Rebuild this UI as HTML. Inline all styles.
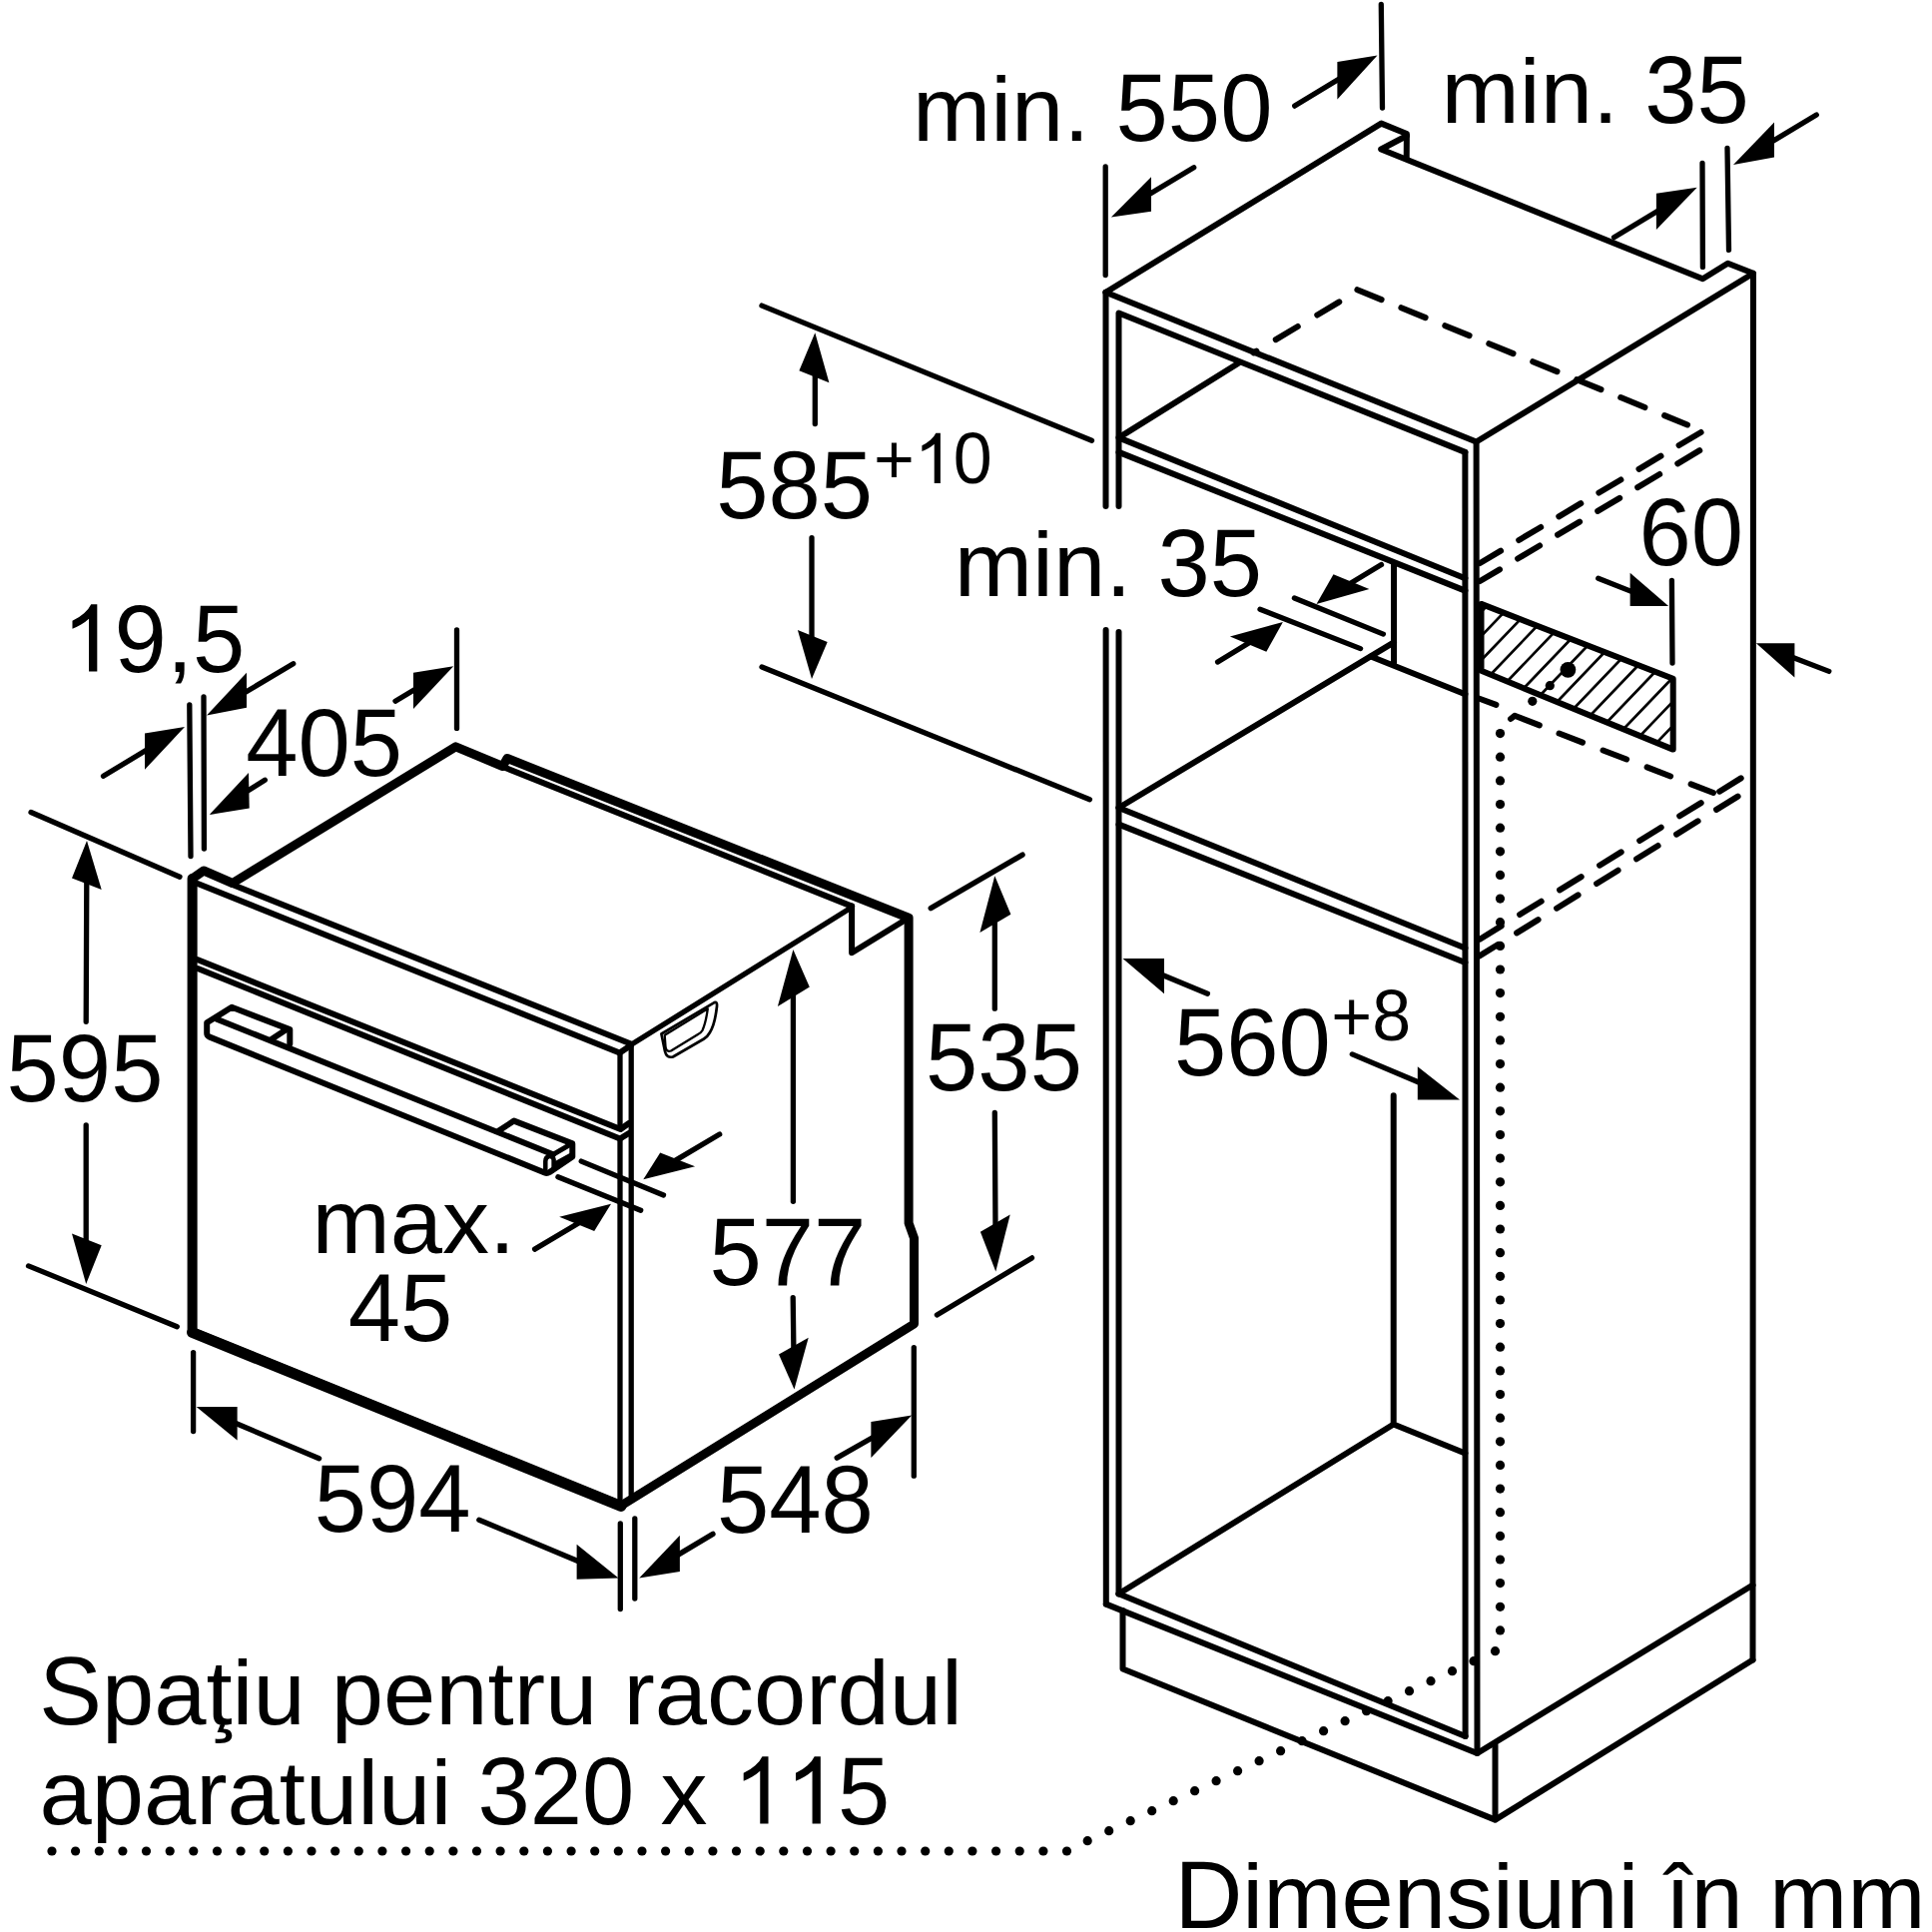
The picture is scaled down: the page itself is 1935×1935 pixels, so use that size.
<!DOCTYPE html>
<html><head><meta charset="utf-8"><style>
html,body{margin:0;padding:0;background:#fff;}
svg{display:block;}
text{font-family:"Liberation Sans",sans-serif;fill:#000;stroke:none;font-kerning:none;}
.f{fill:#000;stroke:none;}
</style></head><body>
<svg width="1935" height="1935" viewBox="0 0 1935 1935">
<rect width="1935" height="1935" fill="#fff"/>
<g stroke="#000" stroke-linecap="round" stroke-linejoin="round" fill="none">
<text transform="translate(913.9,141) scale(1,0.973)" font-size="94">min. </text>
<text transform="translate(1117.6,141) scale(1,1.02)" font-size="94">550</text>
<text transform="translate(1443.5,123.4) scale(1,0.973)" font-size="94">min. </text>
<text transform="translate(1647.2,123.4) scale(1,1.02)" font-size="94">35</text>
<text transform="translate(717.3,518.5) scale(1,1.02)" font-size="94">585</text>
<path transform="translate(915.8,483.9) scale(0.03418,-0.03418)" d="M763,0 L583,0 L583,1147 Q518,1085 412,1023 Q306,961 222,930 L222,1104 Q367,1172 476,1269 Q585,1366 630,1466 L763,1466 Z" class="f"/>
<text transform="translate(874.9,483.9) scale(1,1.0)" font-size="70">+</text>
<text transform="translate(954.7,483.9) scale(1,1.02)" font-size="70">0</text>
<text transform="translate(955.8,597.4) scale(1,0.973)" font-size="94">min. </text>
<text transform="translate(1159.5,597.4) scale(1,1.02)" font-size="94">35</text>
<text transform="translate(1641.5,566) scale(1,1.02)" font-size="94">60</text>
<path transform="translate(62.3,672.5) scale(0.04590,-0.04590)" d="M763,0 L583,0 L583,1147 Q518,1085 412,1023 Q306,961 222,930 L222,1104 Q367,1172 476,1269 Q585,1366 630,1466 L763,1466 Z" class="f"/>
<text transform="translate(114.6,672.5) scale(1,1.02)" font-size="94">9</text>
<text transform="translate(166.9,672.5) scale(1,0.973)" font-size="94">,</text>
<text transform="translate(193,672.5) scale(1,1.02)" font-size="94">5</text>
<text transform="translate(246.2,777) scale(1,1.02)" font-size="94">405</text>
<text transform="translate(6.6,1102.5) scale(1,1.02)" font-size="94">595</text>
<text transform="translate(927.1,1091.5) scale(1,1.02)" font-size="94">535</text>
<text transform="translate(1176,1077) scale(1,1.02)" font-size="94">560</text>
<text transform="translate(1333.3,1042) scale(1,1.0)" font-size="70">+</text>
<text transform="translate(1374.2,1042) scale(1,1.02)" font-size="70">8</text>
<text transform="translate(312.4,1254.5) scale(1,0.973)" font-size="94">max.</text>
<text transform="translate(348.7,1342.7) scale(1,1.02)" font-size="94">45</text>
<text transform="translate(710.4,1287) scale(1,1.02)" font-size="94">577</text>
<text transform="translate(314.7,1534) scale(1,1.02)" font-size="94">594</text>
<text transform="translate(717.9,1535) scale(1,1.02)" font-size="94">548</text>
<text transform="translate(39.2,1727.3) scale(1,1.02)" font-size="94">S</text>
<text transform="translate(101.9,1727.3) scale(1,0.973)" font-size="94">paţiu pentru racordul</text>
<path transform="translate(734.5,1826.5) scale(0.04590,-0.04590)" d="M763,0 L583,0 L583,1147 Q518,1085 412,1023 Q306,961 222,930 L222,1104 Q367,1172 476,1269 Q585,1366 630,1466 L763,1466 Z" class="f"/>
<path transform="translate(786.8,1826.5) scale(0.04590,-0.04590)" d="M763,0 L583,0 L583,1147 Q518,1085 412,1023 Q306,961 222,930 L222,1104 Q367,1172 476,1269 Q585,1366 630,1466 L763,1466 Z" class="f"/>
<text transform="translate(39.5,1826.5) scale(1,0.973)" font-size="94">aparatului </text>
<text transform="translate(478.5,1826.5) scale(1,1.02)" font-size="94">320 </text>
<text transform="translate(661.4,1826.5) scale(1,0.973)" font-size="94">x </text>
<text transform="translate(839.1,1826.5) scale(1,1.02)" font-size="94">5</text>
<text transform="translate(1176.4,1931) scale(1,1.02)" font-size="94">D</text>
<text transform="translate(1244.3,1931) scale(1,0.973)" font-size="94">imensiuni în mm</text>
<line x1="189.8" y1="706" x2="191" y2="857.5" stroke-width="5.3"/>
<line x1="204" y1="698" x2="204.4" y2="850" stroke-width="5.3"/>
<line x1="103.5" y1="777.3" x2="148.2" y2="750.3" stroke-width="5.3"/>
<polygon points="185,728 145,734.6 145,770.8" class="f"/>
<line x1="293.7" y1="664.7" x2="244.2" y2="694.3" stroke-width="5.3"/>
<polygon points="207,716.5 247,673.8 247,708.7" class="f"/>
<line x1="265.3" y1="781.2" x2="245.7" y2="793.5" stroke-width="5.3"/>
<polygon points="209.6,816 249,774 249.7,809.6" class="f"/>
<line x1="396" y1="702.2" x2="417.2" y2="689.5" stroke-width="5.3"/>
<polygon points="454.2,667.3 414,673.8 414,710" class="f"/>
<line x1="457.5" y1="631" x2="457.5" y2="729.4" stroke-width="5.3"/>
<line x1="31" y1="813.5" x2="180" y2="878.2" stroke-width="5.3"/>
<line x1="86.2" y1="1023.3" x2="86.8" y2="881.2" stroke-width="5.3"/>
<polygon points="87,842 72,879.5 101.7,891" class="f"/>
<line x1="86.2" y1="1126.8" x2="86.2" y2="1245.3" stroke-width="5.3"/>
<polygon points="86.2,1286 72,1235.5 101.7,1247.2" class="f"/>
<line x1="28.5" y1="1267.9" x2="177.3" y2="1328.7" stroke-width="5.3"/>
<line x1="193.6" y1="1354.6" x2="193.6" y2="1433.5" stroke-width="5.3"/>
<line x1="319.6" y1="1460.7" x2="233.8" y2="1424.5" stroke-width="5.3"/>
<polygon points="196.7,1408.9 237.6,1408.9 237.6,1442.5" class="f"/>
<line x1="479.8" y1="1522.2" x2="581.8" y2="1564.7" stroke-width="5.3"/>
<polygon points="619.5,1580.4 577.6,1546.8 577.6,1581.7" class="f"/>
<line x1="621.3" y1="1526" x2="621.3" y2="1611.5" stroke-width="5.3"/>
<line x1="635.8" y1="1521" x2="635.8" y2="1601" stroke-width="5.3"/>
<line x1="714" y1="1536.4" x2="677.6" y2="1558.1" stroke-width="5.3"/>
<polygon points="640.2,1580.4 680.9,1537.7 680.9,1574" class="f"/>
<line x1="838.2" y1="1460.1" x2="875.3" y2="1439" stroke-width="5.3"/>
<polygon points="913.2,1417.4 872.4,1423.9 872.4,1460.1" class="f"/>
<line x1="915.3" y1="1349.6" x2="915.3" y2="1478.2" stroke-width="5.3"/>
<line x1="794.4" y1="1203.3" x2="794.4" y2="994.2" stroke-width="5.3"/>
<polygon points="794.4,951 778.9,1007.9 810.8,988.5" class="f"/>
<line x1="794.2" y1="1299.6" x2="794.9" y2="1352.2" stroke-width="5.3"/>
<polygon points="795.5,1391.5 780,1356.6 809.7,1339.8" class="f"/>
<line x1="932.2" y1="909.6" x2="1024.1" y2="856.1" stroke-width="5.3"/>
<line x1="996.3" y1="1010.2" x2="996.3" y2="920.8" stroke-width="5.3"/>
<polygon points="996.3,877.3 981.4,933.9 1012.4,915.8" class="f"/>
<line x1="996.3" y1="1114.5" x2="997" y2="1229.1" stroke-width="5.3"/>
<polygon points="997.3,1273.5 981.9,1233.8 1011.7,1216.4" class="f"/>
<line x1="938.4" y1="1317" x2="1033.5" y2="1259.9" stroke-width="5.3"/>
<line x1="582.2" y1="1163.1" x2="664.5" y2="1197" stroke-width="5.3"/>
<line x1="558.9" y1="1178.7" x2="641.7" y2="1212.3" stroke-width="5.3"/>
<line x1="535.6" y1="1251.1" x2="581.2" y2="1224" stroke-width="5.3"/>
<polygon points="612,1205.8 560.2,1218.8 595.2,1233" class="f"/>
<line x1="720.7" y1="1136" x2="675" y2="1163.1" stroke-width="5.3"/>
<polygon points="644.3,1181.3 661.2,1154.5 696.1,1168.3" class="f"/>
<line x1="763" y1="306.1" x2="1093.5" y2="441.2" stroke-width="5.3"/>
<line x1="816.3" y1="424.6" x2="816.3" y2="373.3" stroke-width="5.3"/>
<polygon points="816.3,333.3 800.4,371.3 830.4,383.3" class="f"/>
<line x1="813" y1="538.7" x2="813" y2="641" stroke-width="5.3"/>
<polygon points="813,680 798.9,631.1 828.7,643" class="f"/>
<line x1="763" y1="668" x2="1091.4" y2="800.7" stroke-width="5.3"/>
<line x1="1107.2" y1="166.9" x2="1107.2" y2="275.6" stroke-width="5.3"/>
<line x1="1195.7" y1="167.7" x2="1149.1" y2="195.7" stroke-width="5.3"/>
<polygon points="1112.9,217.4 1153,177.3 1153,211.7" class="f"/>
<line x1="1296.7" y1="106.1" x2="1342.5" y2="78.2" stroke-width="5.3"/>
<polygon points="1379.5,55.6 1339.4,62.1 1339.4,99.6" class="f"/>
<line x1="1383.3" y1="4.5" x2="1384.5" y2="108" stroke-width="5.3"/>
<line x1="1705" y1="163.5" x2="1705.4" y2="267.4" stroke-width="5.3"/>
<line x1="1730" y1="148.4" x2="1731.5" y2="250.4" stroke-width="5.3"/>
<line x1="1819.3" y1="115" x2="1773.7" y2="142.4" stroke-width="5.3"/>
<polygon points="1736,165 1777,122.6 1777,157.5" class="f"/>
<line x1="1616.5" y1="237.7" x2="1662.5" y2="210.1" stroke-width="5.3"/>
<polygon points="1699.7,187.7 1658.9,193.8 1658.9,230" class="f"/>
<line x1="1296.4" y1="599" x2="1385.4" y2="635.1" stroke-width="5.3"/>
<line x1="1262" y1="610.2" x2="1362.6" y2="649.6" stroke-width="5.3"/>
<line x1="1383.5" y1="565.5" x2="1350.5" y2="585.5" stroke-width="5.3"/>
<polygon points="1318.5,604.9 1335.5,575.3 1371.4,590.1" class="f"/>
<line x1="1219.6" y1="663" x2="1253.2" y2="642.5" stroke-width="5.3"/>
<polygon points="1284.9,623.1 1231.9,637.4 1268.3,652.8" class="f"/>
<line x1="1600.7" y1="579.2" x2="1635.8" y2="593.1" stroke-width="5.3"/>
<polygon points="1671.1,607 1632.6,573.8 1632.6,607" class="f"/>
<line x1="1674.4" y1="581.3" x2="1675" y2="664" stroke-width="5.3"/>
<line x1="1831.8" y1="672.4" x2="1794.4" y2="658" stroke-width="5.3"/>
<polygon points="1758.9,644.2 1797.4,644.2 1797.4,678.6" class="f"/>
<line x1="1209.4" y1="995.3" x2="1162.4" y2="975.8" stroke-width="5.3"/>
<polygon points="1124.5,960.1 1166,960.1 1166,995.3" class="f"/>
<line x1="1354.3" y1="1055.9" x2="1423.9" y2="1085.3" stroke-width="5.3"/>
<polygon points="1462,1101.4 1419.8,1068.3 1419.8,1101.4" class="f"/>
<polyline points="1107.5,292.8 1383.4,123.6 1408.9,134 1408.7,158.8" stroke-width="6.0" fill="none"/>
<polyline points="1408.9,136 1383.2,149.5 1705.4,279.3 1730.5,263.8 1756,273.8 1755.5,1662.5" stroke-width="6.0" fill="none"/>
<polyline points="1107.5,292.8 1478.6,442.5 1756,273.8" stroke-width="6.0" fill="none"/>
<line x1="1107.5" y1="292.8" x2="1107.5" y2="507" stroke-width="6.0"/>
<line x1="1107.6" y1="631" x2="1107.8" y2="1606.6" stroke-width="6.0"/>
<polyline points="1467.4,452.9 1120.5,313.5 1120.5,507" stroke-width="6.0" fill="none"/>
<line x1="1120.5" y1="633" x2="1120.5" y2="1596.3" stroke-width="6.0"/>
<line x1="1478.6" y1="442.5" x2="1479.5" y2="1756" stroke-width="6.0"/>
<line x1="1467.4" y1="452.9" x2="1467.6" y2="1739" stroke-width="6.0"/>
<polyline points="1107.8,1606.6 1479.5,1756 1755.5,1587.5" stroke-width="6.0" fill="none"/>
<polyline points="1120.5,1596.3 1467.6,1739" stroke-width="6.0" fill="none"/>
<polyline points="1124.5,1613 1124.5,1671.5 1497.5,1822.6 1755.5,1662.5" stroke-width="6.0" fill="none"/>
<line x1="1497.5" y1="1748" x2="1497.5" y2="1822.6" stroke-width="6.0"/>
<polyline points="1240,364 1120.5,438.4 1467.4,579.2" stroke-width="6.0" fill="none"/>
<line x1="1120.5" y1="452.9" x2="1467.4" y2="591.6" stroke-width="6.0"/>
<line x1="1396" y1="565" x2="1396" y2="664" stroke-width="6.0"/>
<line x1="1396" y1="643.4" x2="1120.5" y2="809" stroke-width="6.0"/>
<line x1="1373" y1="657.5" x2="1467.4" y2="695.3" stroke-width="6.0"/>
<line x1="1120.5" y1="809" x2="1467.4" y2="949.5" stroke-width="6.0"/>
<line x1="1120.5" y1="825.6" x2="1467.4" y2="964" stroke-width="6.0"/>
<polyline points="1395.7,1097.3 1395.7,1426.5 1467.4,1455.5" stroke-width="6.0" fill="none"/>
<line x1="1395.7" y1="1426.5" x2="1120.5" y2="1596.3" stroke-width="6.0"/>
<clipPath id="hc"><polygon points="1483.5,604.9 1675.7,679.8 1675.7,750.6 1483.5,671.8"/></clipPath>
<g clip-path="url(#hc)"><line x1="1470" y1="554.4" x2="1690" y2="324.5" stroke-width="2.7"/><line x1="1470" y1="578.6" x2="1690" y2="348.7" stroke-width="2.7"/><line x1="1470" y1="602.8" x2="1690" y2="372.9" stroke-width="2.7"/><line x1="1470" y1="627" x2="1690" y2="397.1" stroke-width="2.7"/><line x1="1470" y1="651.2" x2="1690" y2="421.3" stroke-width="2.7"/><line x1="1470" y1="675.4" x2="1690" y2="445.5" stroke-width="2.7"/><line x1="1470" y1="699.6" x2="1690" y2="469.7" stroke-width="2.7"/><line x1="1470" y1="723.8" x2="1690" y2="493.9" stroke-width="2.7"/><line x1="1470" y1="748" x2="1690" y2="518.1" stroke-width="2.7"/><line x1="1470" y1="772.2" x2="1690" y2="542.3" stroke-width="2.7"/><line x1="1470" y1="796.4" x2="1690" y2="566.5" stroke-width="2.7"/><line x1="1470" y1="820.6" x2="1690" y2="590.7" stroke-width="2.7"/><line x1="1470" y1="844.8" x2="1690" y2="614.9" stroke-width="2.7"/><line x1="1470" y1="869" x2="1690" y2="639.1" stroke-width="2.7"/><line x1="1470" y1="893.2" x2="1690" y2="663.3" stroke-width="2.7"/><line x1="1470" y1="917.4" x2="1690" y2="687.5" stroke-width="2.7"/><line x1="1470" y1="941.6" x2="1690" y2="711.7" stroke-width="2.7"/><line x1="1470" y1="965.8" x2="1690" y2="735.9" stroke-width="2.7"/></g>
<polygon points="1483.5,604.9 1675.7,679.8 1675.7,750.6 1483.5,671.8" stroke-width="6.0" fill="none"/>
<circle cx="1570.4" cy="670.8" r="7.9" class="f"/>
<circle cx="1552.3" cy="686.7" r="4.6" class="f"/>
<circle cx="1534.8" cy="702.3" r="4.6" class="f"/>
<circle cx="1502.5" cy="734.6" r="4.6" class="f"/>
<circle cx="1502.5" cy="758.2" r="4.6" class="f"/>
<circle cx="1502.5" cy="781.9" r="4.6" class="f"/>
<circle cx="1502.5" cy="805.5" r="4.6" class="f"/>
<circle cx="1502.5" cy="829.2" r="4.6" class="f"/>
<circle cx="1502.5" cy="852.8" r="4.6" class="f"/>
<circle cx="1502.5" cy="876.4" r="4.6" class="f"/>
<circle cx="1502.5" cy="900.1" r="4.6" class="f"/>
<circle cx="1502.5" cy="923.7" r="4.6" class="f"/>
<circle cx="1502.5" cy="947.4" r="4.6" class="f"/>
<circle cx="1502.5" cy="971" r="4.6" class="f"/>
<circle cx="1502.5" cy="994.6" r="4.6" class="f"/>
<circle cx="1502.5" cy="1018.3" r="4.6" class="f"/>
<circle cx="1502.5" cy="1041.9" r="4.6" class="f"/>
<circle cx="1502.5" cy="1065.6" r="4.6" class="f"/>
<circle cx="1502.5" cy="1089.2" r="4.6" class="f"/>
<circle cx="1502.5" cy="1112.8" r="4.6" class="f"/>
<circle cx="1502.5" cy="1136.5" r="4.6" class="f"/>
<circle cx="1502.5" cy="1160.1" r="4.6" class="f"/>
<circle cx="1502.5" cy="1183.8" r="4.6" class="f"/>
<circle cx="1502.5" cy="1207.4" r="4.6" class="f"/>
<circle cx="1502.5" cy="1231" r="4.6" class="f"/>
<circle cx="1502.5" cy="1254.7" r="4.6" class="f"/>
<circle cx="1502.5" cy="1278.3" r="4.6" class="f"/>
<circle cx="1502.5" cy="1302" r="4.6" class="f"/>
<circle cx="1502.5" cy="1325.6" r="4.6" class="f"/>
<circle cx="1502.5" cy="1349.2" r="4.6" class="f"/>
<circle cx="1502.5" cy="1372.9" r="4.6" class="f"/>
<circle cx="1502.5" cy="1396.5" r="4.6" class="f"/>
<circle cx="1502.5" cy="1420.2" r="4.6" class="f"/>
<circle cx="1502.5" cy="1443.8" r="4.6" class="f"/>
<circle cx="1502.5" cy="1467.4" r="4.6" class="f"/>
<circle cx="1502.5" cy="1491.1" r="4.6" class="f"/>
<circle cx="1502.5" cy="1514.7" r="4.6" class="f"/>
<circle cx="1502.5" cy="1538.4" r="4.6" class="f"/>
<circle cx="1502.5" cy="1562" r="4.6" class="f"/>
<circle cx="1502.5" cy="1585.6" r="4.6" class="f"/>
<circle cx="1502.5" cy="1609.3" r="4.6" class="f"/>
<circle cx="1502.5" cy="1632.9" r="4.6" class="f"/>
<circle cx="1497.5" cy="1653.7" r="4.6" class="f"/>
<circle cx="1476" cy="1663.7" r="4.6" class="f"/>
<circle cx="1454.5" cy="1673.7" r="4.6" class="f"/>
<circle cx="1433" cy="1683.7" r="4.6" class="f"/>
<circle cx="1411.5" cy="1693.7" r="4.6" class="f"/>
<circle cx="1390.1" cy="1703.7" r="4.6" class="f"/>
<circle cx="1368.6" cy="1713.7" r="4.6" class="f"/>
<circle cx="1347.1" cy="1723.7" r="4.6" class="f"/>
<circle cx="1325.6" cy="1733.7" r="4.6" class="f"/>
<circle cx="1304.1" cy="1743.7" r="4.6" class="f"/>
<circle cx="1282.6" cy="1753.7" r="4.6" class="f"/>
<circle cx="1261.1" cy="1763.7" r="4.6" class="f"/>
<circle cx="1239.6" cy="1773.7" r="4.6" class="f"/>
<circle cx="1218.1" cy="1783.7" r="4.6" class="f"/>
<circle cx="1196.6" cy="1793.7" r="4.6" class="f"/>
<circle cx="1175.2" cy="1803.7" r="4.6" class="f"/>
<circle cx="1153.7" cy="1813.7" r="4.6" class="f"/>
<circle cx="1132.2" cy="1823.7" r="4.6" class="f"/>
<circle cx="1110.7" cy="1833.7" r="4.6" class="f"/>
<circle cx="1089.2" cy="1843.7" r="4.6" class="f"/>
<circle cx="1068.5" cy="1854" r="4.6" class="f"/>
<circle cx="1044.9" cy="1854" r="4.6" class="f"/>
<circle cx="1021.2" cy="1854" r="4.6" class="f"/>
<circle cx="997.6" cy="1854" r="4.6" class="f"/>
<circle cx="973.9" cy="1854" r="4.6" class="f"/>
<circle cx="950.3" cy="1854" r="4.6" class="f"/>
<circle cx="926.7" cy="1854" r="4.6" class="f"/>
<circle cx="903" cy="1854" r="4.6" class="f"/>
<circle cx="879.4" cy="1854" r="4.6" class="f"/>
<circle cx="855.7" cy="1854" r="4.6" class="f"/>
<circle cx="832.1" cy="1854" r="4.6" class="f"/>
<circle cx="808.5" cy="1854" r="4.6" class="f"/>
<circle cx="784.8" cy="1854" r="4.6" class="f"/>
<circle cx="761.2" cy="1854" r="4.6" class="f"/>
<circle cx="737.5" cy="1854" r="4.6" class="f"/>
<circle cx="713.9" cy="1854" r="4.6" class="f"/>
<circle cx="690.3" cy="1854" r="4.6" class="f"/>
<circle cx="666.6" cy="1854" r="4.6" class="f"/>
<circle cx="643" cy="1854" r="4.6" class="f"/>
<circle cx="619.3" cy="1854" r="4.6" class="f"/>
<circle cx="595.7" cy="1854" r="4.6" class="f"/>
<circle cx="572.1" cy="1854" r="4.6" class="f"/>
<circle cx="548.4" cy="1854" r="4.6" class="f"/>
<circle cx="524.8" cy="1854" r="4.6" class="f"/>
<circle cx="501.1" cy="1854" r="4.6" class="f"/>
<circle cx="477.5" cy="1854" r="4.6" class="f"/>
<circle cx="453.9" cy="1854" r="4.6" class="f"/>
<circle cx="430.2" cy="1854" r="4.6" class="f"/>
<circle cx="406.6" cy="1854" r="4.6" class="f"/>
<circle cx="382.9" cy="1854" r="4.6" class="f"/>
<circle cx="359.3" cy="1854" r="4.6" class="f"/>
<circle cx="335.7" cy="1854" r="4.6" class="f"/>
<circle cx="312" cy="1854" r="4.6" class="f"/>
<circle cx="288.4" cy="1854" r="4.6" class="f"/>
<circle cx="264.7" cy="1854" r="4.6" class="f"/>
<circle cx="241.1" cy="1854" r="4.6" class="f"/>
<circle cx="217.5" cy="1854" r="4.6" class="f"/>
<circle cx="193.8" cy="1854" r="4.6" class="f"/>
<circle cx="170.2" cy="1854" r="4.6" class="f"/>
<circle cx="146.5" cy="1854" r="4.6" class="f"/>
<circle cx="122.9" cy="1854" r="4.6" class="f"/>
<circle cx="99.3" cy="1854" r="4.6" class="f"/>
<circle cx="75.6" cy="1854" r="4.6" class="f"/>
<circle cx="52" cy="1854" r="4.6" class="f"/>
<line x1="1359.4" y1="290.2" x2="1383.6" y2="300.1" stroke-width="6.0"/>
<line x1="1403.4" y1="308.2" x2="1427.6" y2="318.1" stroke-width="6.0"/>
<line x1="1447.3" y1="326.2" x2="1471.6" y2="336.1" stroke-width="6.0"/>
<line x1="1491.3" y1="344.2" x2="1515.5" y2="354.1" stroke-width="6.0"/>
<line x1="1535.2" y1="362.2" x2="1559.5" y2="372.1" stroke-width="6.0"/>
<line x1="1579.2" y1="380.2" x2="1603.5" y2="390.1" stroke-width="6.0"/>
<line x1="1623.2" y1="398.1" x2="1647.4" y2="408.1" stroke-width="6.0"/>
<line x1="1667.1" y1="416.1" x2="1690" y2="425.5" stroke-width="6.0"/>
<line x1="1341.3" y1="302.4" x2="1319.3" y2="315.5" stroke-width="6.0"/>
<line x1="1299.8" y1="327" x2="1277.8" y2="340.1" stroke-width="6.0"/>
<line x1="1258.4" y1="351.6" x2="1255.5" y2="353.3" stroke-width="6.0"/>
<line x1="1703.6" y1="433" x2="1681.6" y2="446" stroke-width="6.0"/>
<line x1="1663.5" y1="456.7" x2="1641.5" y2="469.8" stroke-width="6.0"/>
<line x1="1623.4" y1="480.5" x2="1601.4" y2="493.5" stroke-width="6.0"/>
<line x1="1583.3" y1="504.2" x2="1561.3" y2="517.3" stroke-width="6.0"/>
<line x1="1543.2" y1="528" x2="1521.2" y2="541" stroke-width="6.0"/>
<line x1="1503.1" y1="551.7" x2="1482.3" y2="564" stroke-width="6.0"/>
<line x1="1702.3" y1="451.2" x2="1680.3" y2="464.3" stroke-width="6.0"/>
<line x1="1662.2" y1="475" x2="1640.2" y2="488.1" stroke-width="6.0"/>
<line x1="1622.2" y1="498.8" x2="1600.2" y2="511.9" stroke-width="6.0"/>
<line x1="1582.1" y1="522.6" x2="1560.1" y2="535.7" stroke-width="6.0"/>
<line x1="1542.1" y1="546.5" x2="1520.1" y2="559.5" stroke-width="6.0"/>
<line x1="1502" y1="570.3" x2="1482.3" y2="582" stroke-width="6.0"/>
<line x1="1481.8" y1="699.7" x2="1498.4" y2="705.9" stroke-width="6.0"/>
<polyline points="1513,720 1517,716.8 1541.8,726.4" stroke-width="6.0" fill="none"/>
<line x1="1561.5" y1="734.5" x2="1585" y2="743.6" stroke-width="6.0"/>
<line x1="1605.5" y1="751.5" x2="1629.1" y2="760.5" stroke-width="6.0"/>
<line x1="1649.6" y1="768.4" x2="1673.1" y2="777.5" stroke-width="6.0"/>
<line x1="1693.6" y1="785.4" x2="1716" y2="794" stroke-width="6.0"/>
<line x1="1743.7" y1="779.4" x2="1722.2" y2="792.7" stroke-width="6.0"/>
<line x1="1703.7" y1="804.1" x2="1682.2" y2="817.3" stroke-width="6.0"/>
<line x1="1663.7" y1="828.7" x2="1642.2" y2="842" stroke-width="6.0"/>
<line x1="1623.7" y1="853.4" x2="1602.1" y2="866.7" stroke-width="6.0"/>
<line x1="1583.7" y1="878.1" x2="1562.1" y2="891.4" stroke-width="6.0"/>
<line x1="1543.7" y1="902.7" x2="1522.1" y2="916" stroke-width="6.0"/>
<line x1="1503.7" y1="927.4" x2="1482.1" y2="940.7" stroke-width="6.0"/>
<line x1="1740.6" y1="797.6" x2="1719.1" y2="810.9" stroke-width="6.0"/>
<line x1="1700.6" y1="822.3" x2="1679.1" y2="835.6" stroke-width="6.0"/>
<line x1="1660.6" y1="847" x2="1639.1" y2="860.3" stroke-width="6.0"/>
<line x1="1620.6" y1="871.7" x2="1599.1" y2="885" stroke-width="6.0"/>
<line x1="1580.6" y1="896.4" x2="1559.1" y2="909.7" stroke-width="6.0"/>
<line x1="1540.6" y1="921.1" x2="1519.1" y2="934.4" stroke-width="6.0"/>
<line x1="1500.7" y1="945.8" x2="1481.8" y2="957.4" stroke-width="6.0"/>
<polyline points="192.6,1334 192.6,880 204,872 232.8,884.5 456.4,747.9 503.5,767.5 508,759.5 910.1,919.3 910.1,1225 915.5,1240 915.5,1326 622,1508 192.6,1334" stroke-width="9.0" fill="none"/>
<line x1="192.6" y1="1334" x2="192.6" y2="880" stroke-width="10"/>
<line x1="192.6" y1="1334.5" x2="622" y2="1508.5" stroke-width="11"/>
<line x1="505" y1="768.5" x2="853.1" y2="907.6" stroke-width="6.0"/>
<polyline points="853.1,907.6 853.1,954.2 903.6,923.2" stroke-width="6.0" fill="none"/>
<line x1="631.8" y1="1046.5" x2="851" y2="910" stroke-width="5.3"/>
<line x1="232.8" y1="886" x2="631.8" y2="1045.5" stroke-width="6.0"/>
<line x1="198" y1="885" x2="620.6" y2="1054.5" stroke-width="6.0"/>
<line x1="620.6" y1="1054.5" x2="631.8" y2="1047" stroke-width="6.0"/>
<line x1="621" y1="1054.5" x2="621" y2="1130" stroke-width="5.3"/>
<line x1="621" y1="1140" x2="621" y2="1503" stroke-width="5.3"/>
<line x1="632.2" y1="1046" x2="632.2" y2="1497" stroke-width="5.3"/>
<polyline points="197.5,961 621.5,1131 629.9,1125" stroke-width="6.0" fill="none"/>
<polyline points="198,970 621,1140.5 629.9,1135" stroke-width="6.0" fill="none"/>
<path d="M290.3,1045.5 L290.3,1031.1 L232.1,1008.8 L207.2,1024.3 L207.2,1035 Q207.2,1037.5 210,1038.6 L545.5,1174.5 Q548,1175.5 550.5,1174 L573.3,1158.5 L573.3,1145.4 L514.8,1122.6 L499.6,1132.4" stroke-width="6" fill="none"/>
<line x1="217.1" y1="1020.7" x2="553.9" y2="1156.3" stroke-width="6"/>
<line x1="272.5" y1="1040.4" x2="285.4" y2="1032.1" stroke-width="6"/>
<line x1="553.9" y1="1156.3" x2="571" y2="1146.3" stroke-width="5"/>
<line x1="556.5" y1="1165" x2="572" y2="1156.5" stroke-width="4"/>
<path d="M546.3,1172.5 L546.3,1163 Q546.3,1158.8 550,1158 Q554,1157.6 554.6,1161.5 L554.6,1170" stroke-width="4.5" fill="none"/>
<path d="M662.4,1035.5 L715.4,1004.1 Q718.5,1003 718,1008 Q716,1026 711,1034 Q708.5,1038.5 705,1040.5 L674,1058.5 Q667.5,1060 666,1053 Z" stroke-width="2.7" fill="none"/>
<path d="M665.7,1036.8 L708.8,1010.3 Q707,1024 703.5,1032 Q702,1034.5 699,1036 L672,1052.5 Q667,1054 666.5,1048 Z" stroke-width="2.3" fill="none"/>
</g>
</svg>
</body></html>
